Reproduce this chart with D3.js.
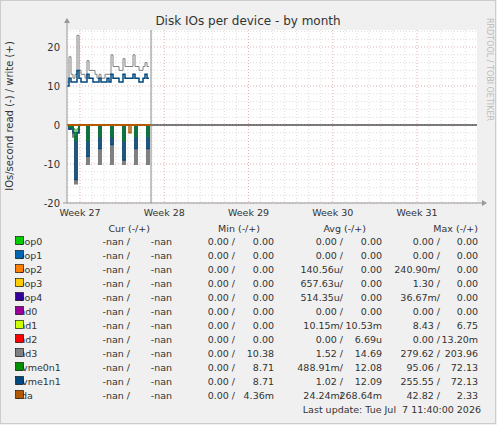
<!DOCTYPE html><html><head><meta charset="utf-8"><script src="https://cdn.jsdelivr.net/npm/d3@7"></script>
<style>body{margin:0;background:#f0f0f0}svg{font-family:"DejaVu Sans",sans-serif}</style></head><body><svg id="c" width="497" height="425"></svg>
<script>
const yTicks=[20,10,0,-10,-20];
const weekLabels=["Week 27","Week 28","Week 29","Week 30","Week 31"];
const md3Write=[11,17.5,13,12,13,23,14,13,13,12,16.5,14,14,14,13,12,13,12,12,13,13,13,18,15,15,15,14,14,17,15,15,15,15,18,15,15,14,14,15,16,15,15];
const nvmeWrite=[10,12,11,11,11,14,12,11,11,11,13,12,12,11,11,11,12,11,11,11,12,11,13,12,12,12,11,11,13,12,12,12,12,13,12,12,11,11,12,13,12,12];
const md3Read=[0,-1,0,-3,-15,-2,0,0,0,0,-10,0,0,0,0,0,-10,0,0,0,0,0,-10,0,0,0,0,0,-10,0,0,0,0,0,-10,0,0,0,0,0,-10,0];
const nvme1Read=[0,-1,0,-2,-14,-2,0,0,0,0,-8,0,0,0,0,0,-6,0,0,0,0,0,-5,0,0,0,0,0,-9,0,0,0,0,0,-6,0,0,0,0,0,-6,0];
const nvme0Read=[0,-0.5,0,-1,-4,-1,0,0,0,0,-4,0,0,0,0,0,-3,0,0,0,0,0,-3,0,0,0,0,0,-4,0,0,0,0,0,-3,0,0,0,0,0,-3,0];
const sdaRead=[0,0,0,0,0,0,0,0,0,0,0,0,0,0,0,0,0,0,0,0,0,0,0,0,0,0,0,0,0,0,0,-2,0,0,0,0,0,0,0,0,0,0];
const legendNames=["loop0","loop1","loop2","loop3","loop4","md0","md1","md2","md3","nvme0n1","nvme1n1","sda"];
const legendColors=["#00cc00","#0066b3","#ff8000","#ffcc00","#330099","#990099","#ccff00","#ff0000","#808080","#008f00","#00487d","#b35a00"];
const curCol=[["-nan /","-nan"],["-nan /","-nan"],["-nan /","-nan"],["-nan /","-nan"],["-nan /","-nan"],["-nan /","-nan"],["-nan /","-nan"],["-nan /","-nan"],["-nan /","-nan"],["-nan /","-nan"],["-nan /","-nan"],["-nan /","-nan"]];
const minCol=[["0.00 /","0.00"],["0.00 /","0.00"],["0.00 /","0.00"],["0.00 /","0.00"],["0.00 /","0.00"],["0.00 /","0.00"],["0.00 /","0.00"],["0.00 /","0.00"],["0.00 /","10.38"],["0.00 /","8.71"],["0.00 /","8.71"],["0.00 /","4.36m"]];
const avgCol=[["0.00 /","0.00"],["0.00 /","0.00"],["140.56u/","0.00"],["657.63u/","0.00"],["514.35u/","0.00"],["0.00 /","0.00"],["10.15m/","10.53m"],["0.00 /","6.69u"],["1.52 /","14.69"],["488.91m/","12.08"],["1.02 /","12.09"],["24.24m/","268.64m"]];
const maxCol=[["0.00 /","0.00"],["0.00 /","0.00"],["240.90m/","0.00"],["1.30 /","0.00"],["36.67m/","0.00"],["0.00 /","0.00"],["8.43 /","6.75"],["0.00 /","13.20m"],["279.62 /","203.96"],["95.06 /","72.13"],["255.55 /","72.13"],["42.82 /","2.33"]];

const svg=d3.select("#c");
const L=67,R=477,T=30,B=203;
svg.append("rect").attr("x",L).attr("y",T).attr("width",R-L).attr("height",B-T).attr("fill","#fff");
const y=d3.scaleLinear().domain([-20,25]).range([B,B-45*3.9]);
const x=d3.scaleLinear().domain([0,4]).range([80,417]);
const day=(x(1)-x(0))/7;
for(let v=-20;v<=24;v+=2){const maj=v%10==0;svg.append("line").attr("x1",L).attr("x2",R).attr("y1",y(v)).attr("y2",y(v)).attr("stroke",maj?"#e0b0b0":"#ddd").attr("stroke-dasharray","1,2");}
for(let d=-1;x(0)+d*day<=R;d++){const xx=x(0)+d*day;if(xx<L)continue;const maj=d%7==0;svg.append("line").attr("x1",xx).attr("x2",xx).attr("y1",T).attr("y2",B).attr("stroke",maj?"#e0b0b0":"#ddd").attr("stroke-dasharray","1,2");}
const xi=d3.scaleLinear().domain([0,md3Write.length]).range([L,151]);
const line=d3.line().x((d,i)=>xi(i)).y(d=>y(d)).curve(d3.curveStepAfter);
const ser=[[md3Write,"#808080",1],[nvmeWrite,"#00487d",1.5],[md3Read,"#808080",2],[nvme1Read,"#00487d",1.5],[nvme0Read,"#008f00",1],[sdaRead,"#b35a00",1.5]];
ser.forEach(([d,c,w])=>svg.append("path").attr("d",line(d)).attr("fill","none").attr("stroke",c).attr("stroke-width",w));
svg.append("line").attr("x1",L).attr("x2",151).attr("y1",y(0)).attr("y2",y(0)).attr("stroke","#b35a00").attr("stroke-width",2);
svg.append("line").attr("x1",151).attr("x2",R).attr("y1",y(0)).attr("y2",y(0)).attr("stroke","#000");
svg.append("line").attr("x1",151).attr("x2",151).attr("y1",T).attr("y2",B).attr("stroke","#888");
svg.append("line").attr("x1",L).attr("x2",L).attr("y1",B).attr("y2",T-8).attr("stroke","#999");
svg.append("line").attr("x1",L-4).attr("x2",R+5).attr("y1",B).attr("y2",B).attr("stroke","#999");
svg.append("path").attr("d",`M${L-3},${T-7}L${L+3},${T-7}L${L},${T-12}Z`).attr("fill","#999");
svg.append("path").attr("d",`M${R+5},${B-3}L${R+5},${B+3}L${R+10},${B}Z`).attr("fill","#999");
yTicks.forEach(v=>svg.append("text").attr("x",L-7).attr("y",y(v)+4).attr("text-anchor","end").attr("font-size",10).attr("fill","#333").text(v));
weekLabels.forEach((w,i)=>svg.append("text").attr("x",x(i)).attr("y",B+13).attr("text-anchor","middle").attr("font-size",9.5).attr("fill","#333").text(w));
svg.append("text").attr("x",248).attr("y",25).attr("text-anchor","middle").attr("font-size",12).attr("fill","#333").text("Disk IOs per device - by month");
svg.append("text").attr("transform","translate(13,116) rotate(-90)").attr("text-anchor","middle").attr("font-size",10).attr("fill","#333").text("IOs/second read (-) / write (+)");
svg.append("text").attr("transform","translate(487,18) rotate(90)").attr("font-size",8).attr("fill","#bbb").text("RRDTOOL / TOBI OETIKER");
const fs=9.5;
const hdr=[["Cur (-/+)",150],["Min (-/+)",260],["Avg (-/+)",366],["Max (-/+)",478]];
hdr.forEach(([t,xx])=>svg.append("text").attr("x",xx).attr("y",232).attr("text-anchor","end").attr("font-size",fs).attr("fill","#333").text(t));
const cols=[[curCol,[130,172]],[minCol,[235,274]],[avgCol,[343,382]],[maxCol,[440,478]]];
legendNames.forEach((n,i)=>{const yy=245+i*14;
svg.append("text").attr("x",16).attr("y",yy).attr("font-size",fs).attr("fill","#333").text(n);
svg.append("rect").attr("x",15.5).attr("y",yy-8.5).attr("width",8).attr("height",8).attr("fill",legendColors[i]).attr("stroke","#000").attr("stroke-width",0.6);
cols.forEach(([c,p])=>{svg.append("text").attr("x",p[0]).attr("y",yy).attr("text-anchor","end").attr("font-size",fs).attr("fill","#333").text(c[i][0]);
svg.append("text").attr("x",p[1]).attr("y",yy).attr("text-anchor","end").attr("font-size",fs).attr("fill","#333").text(c[i][1]);});});
svg.append("text").attr("x",481).attr("y",413).attr("text-anchor","end").attr("font-size",fs).attr("fill","#333").attr("xml:space","preserve").text("Last update: Tue Jul  7 11:40:00 2026");
svg.append("rect").attr("x",0.5).attr("y",0.5).attr("width",495).attr("height",423).attr("fill","none").attr("stroke","#ccc");
</script></body></html>
